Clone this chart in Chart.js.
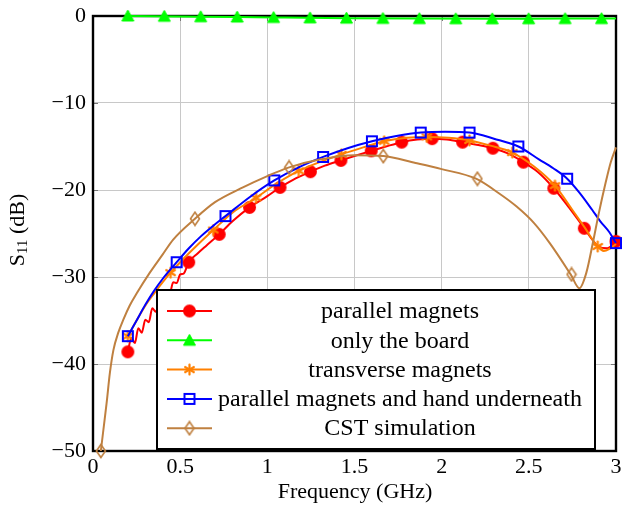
<!DOCTYPE html>
<html>
<head>
<meta charset="utf-8">
<script src="https://cdn.jsdelivr.net/npm/chart.js@4.4.1/dist/chart.umd.min.js"></script>
<style>body{margin:0;background:#fff}</style>
</head>
<body>
<div style="width:622px;height:510px"><canvas id="s11Chart" width="622" height="510"></canvas></div>
<script>
var freqRed = [0.2, 0.22, 0.24, 0.26, 0.28, 0.3, 0.32, 0.34, 0.36, 0.38, 0.4, 0.42, 0.44, 0.46, 0.48, 0.5, 0.52, 0.549, 0.6, 0.65, 0.724, 0.8, 0.898, 1.0, 1.073, 1.15, 1.247, 1.33, 1.422, 1.5, 1.596, 1.68, 1.771, 1.86, 1.945, 2.03, 2.12, 2.2, 2.294, 2.38, 2.469, 2.55, 2.643, 2.73, 2.818, 2.86, 2.9, 2.95, 3.0];
var s11Red = [-38.6, -37.0, -37.6, -35.9, -36.4, -34.9, -35.2, -33.6, -34.0, -32.9, -32.6, -31.6, -31.9, -30.6, -30.7, -29.7, -29.6, -28.3, -27.3, -26.4, -25.1, -23.6, -22.0, -20.7, -19.7, -18.8, -17.9, -17.2, -16.6, -16.1, -15.5, -15.0, -14.5, -14.2, -14.1, -14.2, -14.5, -14.8, -15.2, -15.8, -16.8, -17.9, -19.8, -22.0, -24.4, -25.6, -26.5, -26.7, -25.9];
var freqRedMarks = [0.2, 0.4, 0.549, 0.724, 0.898, 1.073, 1.247, 1.422, 1.596, 1.771, 1.945, 2.12, 2.294, 2.469, 2.643, 2.818, 3.0];
var s11RedMarks = [-38.6, -32.6, -28.3, -25.1, -22.0, -19.7, -17.9, -16.6, -15.5, -14.5, -14.1, -14.5, -15.2, -16.8, -19.8, -24.4, -25.9];

var freqBoard = [0.2, 0.62, 1.04, 1.46, 1.88, 2.3, 2.71, 3.0];
var s11Board = [0.0, -0.08, -0.17, -0.25, -0.3, -0.32, -0.3, -0.3];
var freqBoardMarks = [0.2, 0.409, 0.618, 0.827, 1.036, 1.245, 1.454, 1.663, 1.872, 2.081, 2.29, 2.499, 2.708, 2.917];
var s11BoardMarks = [0.0, -0.03, -0.08, -0.12, -0.17, -0.21, -0.25, -0.28, -0.3, -0.31, -0.32, -0.31, -0.3, -0.3];

var freqTrans = [0.2, 0.25, 0.3, 0.35, 0.4, 0.445, 0.5, 0.6, 0.69, 0.8, 0.935, 1.05, 1.18, 1.3, 1.425, 1.55, 1.67, 1.8, 1.915, 2.04, 2.16, 2.28, 2.405, 2.53, 2.65, 2.75, 2.82, 2.895, 2.93, 2.96, 3.0];
var s11Trans = [-36.8, -35.0, -33.3, -31.9, -30.6, -29.5, -28.3, -26.3, -24.6, -22.6, -20.9, -19.3, -17.8, -16.8, -15.9, -15.1, -14.4, -14.0, -13.9, -14.0, -14.3, -14.9, -15.7, -17.3, -19.5, -22.3, -24.3, -26.5, -27.0, -26.8, -26.2];
var freqTransMarks = [0.2, 0.445, 0.69, 0.935, 1.18, 1.425, 1.67, 1.915, 2.16, 2.405, 2.65, 2.895];
var s11TransMarks = [-36.8, -29.5, -24.6, -20.9, -17.8, -15.9, -14.4, -13.9, -14.3, -15.7, -19.5, -26.5];

var freqHand = [0.2, 0.25, 0.3, 0.35, 0.4, 0.48, 0.55, 0.62, 0.69, 0.76, 0.9, 1.04, 1.18, 1.32, 1.46, 1.6, 1.74, 1.88, 2.02, 2.16, 2.3, 2.44, 2.56, 2.64, 2.72, 2.79, 2.864, 2.91, 2.96, 3.0];
var s11Hand = [-36.8, -35.0, -33.2, -31.6, -30.2, -28.3, -26.7, -25.3, -24.1, -23.0, -20.8, -18.9, -17.4, -16.2, -15.2, -14.4, -13.8, -13.4, -13.3, -13.4, -14.1, -15.0, -16.5, -17.5, -18.7, -20.3, -22.3, -23.6, -24.8, -26.1];
var freqHandMarks = [0.2, 0.48, 0.76, 1.04, 1.32, 1.6, 1.88, 2.16, 2.44, 2.72, 3.0];
var s11HandMarks = [-36.8, -28.3, -23.0, -18.9, -16.2, -14.4, -13.4, -13.4, -15.0, -18.7, -26.1];

var freqCst = [0.045, 0.06, 0.078, 0.097, 0.117, 0.145, 0.174, 0.21, 0.25, 0.326, 0.4, 0.46, 0.585, 0.7, 0.86, 1.0, 1.125, 1.3, 1.5, 1.665, 1.85, 2.0, 2.197, 2.33, 2.43, 2.53, 2.62, 2.74, 2.79, 2.83, 2.87, 2.9, 2.94, 2.97, 3.0];
var s11Cst = [-50, -47.5, -44.5, -41, -38.4, -36.4, -34.9, -33.3, -31.9, -29.5, -27.4, -25.7, -23.3, -21.4, -19.7, -18.4, -17.4, -16.5, -16.0, -16.1, -16.9, -17.6, -18.7, -20.4, -21.9, -23.8, -26.1, -29.7, -31.3, -29.5, -25.8, -22.8, -19.2, -16.8, -15.1];
var freqCstMarks = [0.045, 0.585, 1.125, 1.665, 2.205, 2.745];
var s11CstMarks = [-50, -23.3, -17.4, -16.1, -18.7, -29.7];

var legendLabels = ['parallel magnets', 'only the board', 'transverse magnets', 'parallel magnets and hand underneath', 'CST simulation'];
var xTicks = [0, 0.5, 1, 1.5, 2, 2.5, 3];
var yTicks = [0, -10, -20, -30, -40, -50];

var RED = '#ff0000', GREEN = '#00ff00', ORANGE = '#ff8000', BLUE = '#0000ff', BROWN = '#bf8040';
var SERIF = "'Liberation Serif', 'Times New Roman', serif";

function pairs(xs, ys) {
  return xs.map(function (x, i) { return {x: x, y: ys[i]}; });
}

function makeMark(w, h, draw) {
  var c = document.createElement('canvas');
  c.width = w; c.height = h;
  draw(c.getContext('2d'), w / 2, h / 2);
  return c;
}

var markDot = makeMark(15, 15, function (g, cx, cy) {
  g.fillStyle = RED; g.beginPath(); g.arc(cx, cy, 6.5, 0, Math.PI * 2); g.fill();
});
var markTri = makeMark(15, 14, function (g) {
  g.fillStyle = GREEN; g.strokeStyle = GREEN; g.lineWidth = 1;
  g.beginPath(); g.moveTo(7.5, 1); g.lineTo(13.5, 12); g.lineTo(1.5, 12); g.closePath(); g.fill(); g.stroke();
});
var markStar = makeMark(13, 13, function (g, cx, cy) {
  g.strokeStyle = ORANGE; g.lineWidth = 2.2; g.lineCap = 'round';
  for (var a = 0; a < 3; a++) {
    var t = Math.PI / 2 + a * Math.PI / 3;
    g.beginPath();
    g.moveTo(cx + Math.cos(t) * 5, cy + Math.sin(t) * 5);
    g.lineTo(cx - Math.cos(t) * 5, cy - Math.sin(t) * 5);
    g.stroke();
  }
});
var markSquare = makeMark(14, 14, function (g) {
  g.strokeStyle = BLUE; g.lineWidth = 2; g.strokeRect(2, 2, 10, 10);
});
var markDiamond = makeMark(12, 16, function (g) {
  g.strokeStyle = BROWN; g.lineWidth = 1.6;
  g.beginPath(); g.moveTo(6, 1.5); g.lineTo(10.5, 8); g.lineTo(6, 14.5); g.lineTo(1.5, 8); g.closePath(); g.stroke();
});

var legendMarks = [markDot, markTri, markStar, markSquare, markDiamond];
var legendColors = [RED, GREEN, ORANGE, BLUE, BROWN];

function curve(xs, ys, color, order) {
  return {
    data: pairs(xs, ys), showLine: true, borderColor: color, borderWidth: 2, pointRadius: 0,
    cubicInterpolationMode: 'monotone', fill: false, clip: false, order: order
  };
}
function marks(xs, ys, img, order) {
  return {
    data: pairs(xs, ys), showLine: false, pointStyle: img, pointRadius: 5,
    clip: false, order: order
  };
}

var framePlugin = {
  id: 'frame',
  beforeDatasetsDraw: function (chart) {
    var a = chart.chartArea, ctx = chart.ctx;
    var xs = chart.scales.x, ys = chart.scales.y;
    ctx.save();
    ctx.strokeStyle = '#777'; ctx.lineWidth = 1;
    xTicks.forEach(function (v) {
      var px = Math.round(xs.getPixelForValue(v)) + 0.5;
      ctx.beginPath();
      ctx.moveTo(px, a.bottom); ctx.lineTo(px, a.bottom - 5);
      ctx.moveTo(px, a.top); ctx.lineTo(px, a.top + 5);
      ctx.stroke();
    });
    yTicks.forEach(function (v) {
      var py = Math.round(ys.getPixelForValue(v)) + 0.5;
      ctx.beginPath();
      ctx.moveTo(a.left, py); ctx.lineTo(a.left + 5, py);
      ctx.moveTo(a.right, py); ctx.lineTo(a.right - 5, py);
      ctx.stroke();
    });
    ctx.strokeStyle = '#000'; ctx.lineWidth = 2.4;
    ctx.strokeRect(a.left, a.top, a.right - a.left, a.bottom - a.top);
    ctx.restore();
  },
  afterDatasetsDraw: function (chart) {
    var ctx = chart.ctx;
    ctx.save();
    // legend box
    ctx.fillStyle = '#fff';
    ctx.fillRect(157, 290, 438, 159);
    ctx.strokeStyle = '#000'; ctx.lineWidth = 2;
    ctx.strokeRect(157, 290, 438, 159);
    ctx.font = '24px ' + SERIF;
    ctx.textAlign = 'center'; ctx.textBaseline = 'middle';
    legendLabels.forEach(function (lab, i) {
      var y = 311 + i * 29.3;
      ctx.strokeStyle = legendColors[i]; ctx.lineWidth = 2;
      ctx.beginPath(); ctx.moveTo(167, y); ctx.lineTo(212, y); ctx.stroke();
      var m = legendMarks[i];
      ctx.drawImage(m, 189.5 - m.width / 2, y - m.height / 2);
      ctx.fillStyle = '#000';
      ctx.fillText(lab, 400, y + 1);
    });
    // axis titles
    ctx.font = '22px ' + SERIF;
    ctx.fillText('Frequency (GHz)', 355, 492);
    ctx.translate(18, 230);
    ctx.rotate(-Math.PI / 2);
    ctx.textAlign = 'left';
    var wS = ctx.measureText('S').width;
    ctx.font = '15px ' + SERIF;
    var wSub = ctx.measureText('11').width;
    ctx.font = '22px ' + SERIF;
    var wRest = ctx.measureText(' (dB)').width;
    var x0 = -(wS + wSub + wRest) / 2;
    ctx.fillText('S', x0, 0);
    ctx.font = '15px ' + SERIF;
    ctx.fillText('11', x0 + wS, 5);
    ctx.font = '22px ' + SERIF;
    ctx.fillText(' (dB)', x0 + wS + wSub, 0);
    ctx.restore();
  }
};

var ctx = document.getElementById('s11Chart').getContext('2d');
var s11Chart = new Chart(ctx, {
  type: 'scatter',
  data: {
    datasets: [
      curve(freqRed, s11Red, RED, 10),
      marks(freqRedMarks, s11RedMarks, markDot, 9),
      curve(freqBoard, s11Board, GREEN, 8),
      marks(freqBoardMarks, s11BoardMarks, markTri, 7),
      curve(freqTrans, s11Trans, ORANGE, 6),
      marks(freqTransMarks, s11TransMarks, markStar, 5),
      curve(freqHand, s11Hand, BLUE, 4),
      marks(freqHandMarks, s11HandMarks, markSquare, 3),
      curve(freqCst, s11Cst, BROWN, 2),
      marks(freqCstMarks, s11CstMarks, markDiamond, 1)
    ]
  },
  options: {
    responsive: false,
    animation: false,
    devicePixelRatio: 1,
    layout: { padding: { top: 16, right: 5, left: 0, bottom: 0 } },
    plugins: { legend: { display: false }, tooltip: { enabled: false } },
    scales: {
      x: {
        type: 'linear', min: 0, max: 3,
        afterFit: function (s) { s.height = 59; s.paddingLeft = 0; s.paddingRight = 0; },
        afterBuildTicks: function (s) { s.ticks = xTicks.map(function (v) { return {value: v}; }); },
        ticks: { color: '#000', font: { family: SERIF, size: 22 }, padding: 3, maxRotation: 0,
                 callback: function (v) { return String(v); } },
        grid: { color: '#c8c8c8', lineWidth: 1, drawTicks: false },
        border: { display: false }
      },
      y: {
        type: 'linear', min: -50, max: 0,
        afterFit: function (s) { s.width = 93; s.paddingTop = 0; s.paddingBottom = 0; },
        afterBuildTicks: function (s) { s.ticks = yTicks.map(function (v) { return {value: v}; }); },
        ticks: { color: '#000', font: { family: SERIF, size: 22 }, padding: 7,
                 callback: function (v) { return v < 0 ? '\u2212' + Math.abs(v) : String(v); } },
        grid: { color: '#c8c8c8', lineWidth: 1, drawTicks: false },
        border: { display: false }
      }
    }
  },
  plugins: [framePlugin]
});
</script>
</body>
</html>
